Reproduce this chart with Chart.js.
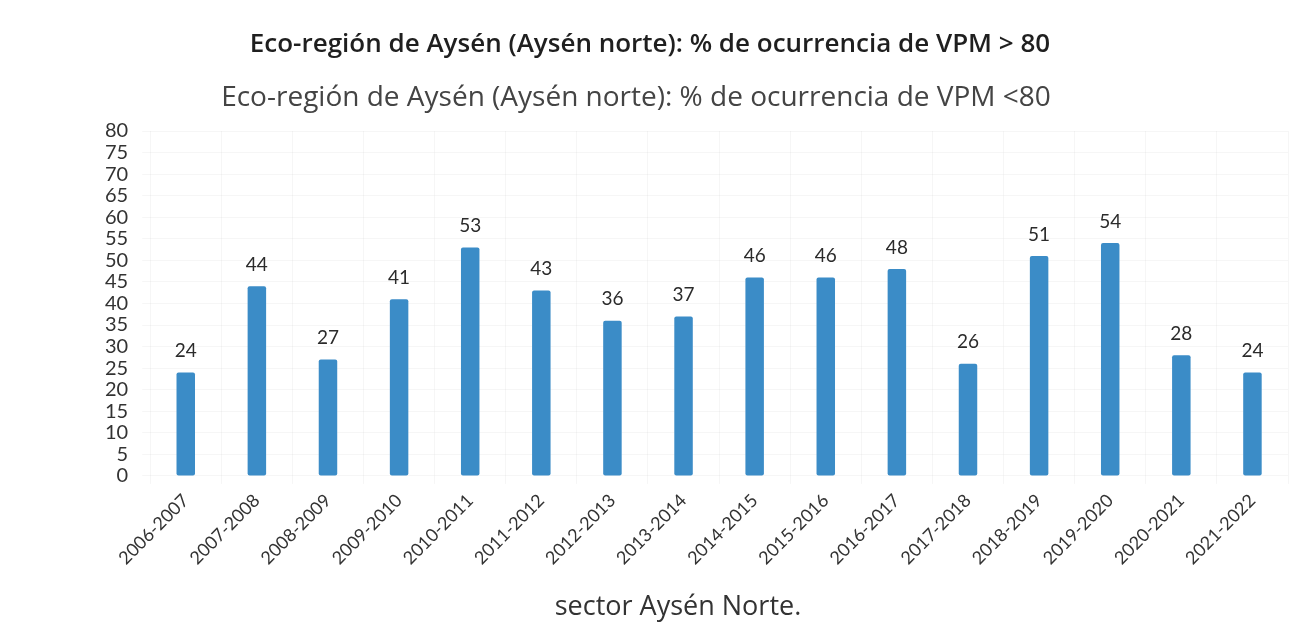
<!DOCTYPE html>
<html lang="es">
<head>
    <meta charset="UTF-8">
    <title>Eco-región de Aysén</title>
    <script src="https://cdn.jsdelivr.net/npm/chart.js"></script>
    <style>
        html, body { margin: 0; padding: 0; background: #fff; }
        #wrap { position: relative; width: 1294px; height: 623px; }
        .txt {
            position: absolute;
            transform: translate(-50%, -50%);
            white-space: nowrap;
            font-family: "Open Sans", sans-serif;
            line-height: 1;
        }
        #t1 { left: 650px; top: 42px; font-size: 26px; font-weight: 600; color: #1f1f1f; }
        #t2 { left: 636px; top: 95px; font-size: 28px; color: #444; }
        #t3 { left: 678px; top: 604px; font-size: 27px; color: #333; }
    </style>
</head>
<body>
    <div id="wrap">
        <canvas id="vpmChart" width="1294" height="623"></canvas>
        <div class="txt" id="t1"></div>
        <div class="txt" id="t2"></div>
        <div class="txt" id="t3"></div>
    </div>
    <script>
        // datos
        var temporadas = ["2006-2007", "2007-2008", "2008-2009", "2009-2010", "2010-2011", "2011-2012",
            "2012-2013", "2013-2014", "2014-2015", "2015-2016", "2016-2017", "2017-2018",
            "2018-2019", "2019-2020", "2020-2021", "2021-2022"];
        var ocurrencia = [24, 44, 27, 41, 53, 43, 36, 37, 46, 46, 48, 26, 51, 54, 28, 24];
        var tituloArriba = "Eco-región de Aysén (Aysén norte): % de ocurrencia de VPM > 80";
        var tituloGrafico = "Eco-región de Aysén (Aysén norte): % de ocurrencia de VPM <80";
        var pieTexto = "sector Aysén Norte.";

        document.getElementById("t1").textContent = tituloArriba;
        document.getElementById("t2").textContent = tituloGrafico;
        document.getElementById("t3").textContent = pieTexto;

        // etiquetas sobre cada barra
        var etiquetasBarras = {
            id: "etiquetasBarras",
            afterDatasetsDraw: function (chart) {
                var ctx = chart.ctx;
                var meta = chart.getDatasetMeta(0);
                ctx.save();
                ctx.fillStyle = "#2b2b2b";
                ctx.font = "19px Lato";
                ctx.textAlign = "center";
                ctx.textBaseline = "bottom";
                meta.data.forEach(function (bar, i) {
                    ctx.fillText(ocurrencia[i], bar.x, bar.y - 12);
                });
                ctx.restore();
            }
        };

        var ctx = document.getElementById("vpmChart").getContext("2d");
        var grafico = new Chart(ctx, {
            type: "bar",
            data: {
                labels: temporadas,
                datasets: [{
                    data: ocurrencia,
                    backgroundColor: "#3b8cc7",
                    borderRadius: 2,
                    borderSkipped: false,
                    barPercentage: 0.26,
                    categoryPercentage: 1.0
                }]
            },
            options: {
                responsive: false,
                animation: false,
                layout: { padding: { top: 131, left: 91, right: 6, bottom: 48 } },
                plugins: {
                    legend: { display: false },
                    tooltip: { enabled: false }
                },
                scales: {
                    x: {
                        grid: { color: "rgba(0,0,0,0.035)" },
                        border: { display: false },
                        ticks: {
                            color: "#333",
                            font: { family: "Lato", size: 18 },
                            maxRotation: 45,
                            minRotation: 45,
                            padding: 6
                        }
                    },
                    y: {
                        min: 0,
                        max: 80,
                        grid: { color: "rgba(0,0,0,0.035)" },
                        border: { display: false },
                        ticks: {
                            stepSize: 5,
                            color: "#333",
                            font: { family: "Lato", size: 20 },
                            padding: 14,
                            autoSkip: false
                        }
                    }
                }
            },
            plugins: [etiquetasBarras]
        });
    </script>
</body>
</html>
